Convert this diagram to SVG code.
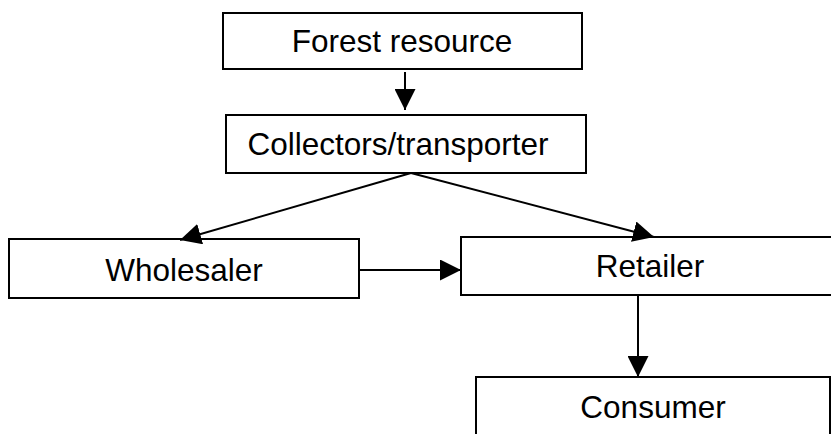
<svg xmlns="http://www.w3.org/2000/svg" width="831" height="434" viewBox="0 0 831 434">
<style>
.box{fill:#fff;stroke:#000;stroke-width:2}
.lbl{font-family:"Liberation Sans",Arial,sans-serif;font-size:31.5px;fill:#000;text-anchor:middle}
.conn{stroke:#000;stroke-width:2;fill:none}
</style>
<defs>
<marker id="ah" markerUnits="userSpaceOnUse" markerWidth="21" markerHeight="21" refX="21" refY="10.5" orient="auto" viewBox="0 0 21 21">
<path d="M0,0 L21,10.5 L0,21 z" fill="#000"/>
</marker>
</defs>
<rect width="831" height="434" fill="#fff"/>
<g id="forest"><rect class="box" x="223" y="13" width="359" height="56"/><text class="lbl" x="402" y="52">Forest resource</text></g>
<g id="collectors"><rect class="box" x="226" y="115" width="360" height="58"/><text class="lbl" x="398" y="155">Collectors/transporter</text></g>
<g id="wholesaler"><rect class="box" x="9" y="239" width="350" height="59"/><text class="lbl" x="184" y="281">Wholesaler</text></g>
<g id="retailer"><rect class="box" x="461" y="237" width="400" height="58"/><text class="lbl" x="650" y="277">Retailer</text></g>
<g id="consumer"><rect class="box" x="476" y="377" width="354" height="80"/><text class="lbl" x="653" y="418">Consumer</text></g>
<g id="connectors">
<line class="conn" x1="405" y1="72" x2="405" y2="110" marker-end="url(#ah)"/>
<line class="conn" x1="411" y1="173" x2="180" y2="240" marker-end="url(#ah)"/>
<line class="conn" x1="411" y1="173" x2="654" y2="237" marker-end="url(#ah)"/>
<line class="conn" x1="359" y1="270" x2="461" y2="270" marker-end="url(#ah)"/>
<line class="conn" x1="638" y1="295" x2="638" y2="377" marker-end="url(#ah)"/>
</g>
</svg>
